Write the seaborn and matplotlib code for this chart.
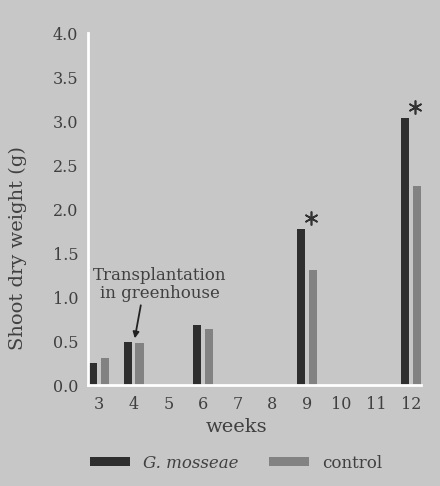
import matplotlib
matplotlib.use("Agg")
import matplotlib.pyplot as plt
import seaborn as sns
import pandas as pd

# ---- data ----
week_order = [3, 4, 5, 6, 7, 8, 9, 10, 11, 12]
weeks = [3, 4, 6, 9, 12]
mosseae = [0.25, 0.49, 0.68, 1.77, 3.03]
control = [0.31, 0.48, 0.64, 1.31, 2.26]
series_names = ["G. mosseae", "control"]
signif_weeks = [9, 12]
y_ticks = [0.0, 0.5, 1.0, 1.5, 2.0, 2.5, 3.0, 3.5, 4.0]

df = pd.DataFrame({
    "week": weeks + weeks,
    "weight": mosseae + control,
    "group": [series_names[0]] * len(weeks) + [series_names[1]] * len(weeks),
})

BG = "#c7c7c7"
TXT = "#404040"
DARK = "#2e2e2e"
GREY = "#828282"
sns.set_theme(style="white")
plt.rcParams["font.family"] = ["DejaVu Serif"]
plt.rcParams["text.color"] = TXT

fig = plt.figure(figsize=(4.4, 4.86), dpi=100, facecolor=BG)
ax = fig.add_axes([88 / 440, 1 - 385 / 486, 333 / 440, 352 / 486])
ax.set_facecolor(BG)

sns.barplot(data=df, x="week", y="weight", hue="group", order=week_order,
            hue_order=series_names, palette=[DARK, GREY],
            width=0.69, gap=0.29, ax=ax, legend=True, saturation=1,
            linewidth=0, edgecolor="none")

ax.set_xlim(-0.32, 9.29)
ax.set_ylim(0, 4.0)
ax.set_yticks(y_ticks)
ax.set_yticklabels([f"{v:.1f}" for v in y_ticks])
ax.tick_params(axis="both", length=0, labelsize=11.5, colors=TXT)
ax.tick_params(axis="x", pad=8)
ax.tick_params(axis="y", pad=7)

for s in ["top", "right"]:
    ax.spines[s].set_visible(False)
for s in ["left", "bottom"]:
    ax.spines[s].set_color("white")
    ax.spines[s].set_linewidth(2)

ax.set_xlabel("weeks", fontsize=14, color=TXT)
ax.set_ylabel("Shoot dry weight (g)", fontsize=14, color=TXT)
ax.xaxis.set_label_coords(0.447, -0.095)
ax.yaxis.set_label_coords(-0.184, 0.39)

# significance asterisks
sig_x = [week_order.index(w) + 0.12 for w in signif_weeks]
sig_y = [mosseae[weeks.index(w)] + 0.13 for w in signif_weeks]
ax.plot(sig_x, sig_y, linestyle="none", marker=(6, 2, 0), markersize=10,
        markeredgewidth=1.2, color="#333333")

# annotation
ax.annotate("Transplantation\nin greenhouse", xy=(1.03, 0.53), xytext=(1.76, 1.14),
            textcoords="data", ha="center", va="center", fontsize=12,
            linespacing=1.05, color=TXT,
            arrowprops=dict(arrowstyle="-|>", color="#222222", lw=1.3,
                            shrinkA=0, shrinkB=0, mutation_scale=9,
                            relpos=(0.36, 0.0)))

# legend
handles, labels = ax.get_legend_handles_labels()
ax.legend_.remove()
for h in handles:
    h.set_edgecolor("none")
    h.set_linewidth(0)
leg = fig.legend(handles, labels, loc="center", ncol=2,
                 bbox_to_anchor=(0.536, 1 - 463 / 486), frameon=False,
                 fontsize=12, handlelength=2.4, handleheight=0.42,
                 handletextpad=0.8, columnspacing=1.8)
leg.get_texts()[0].set_fontstyle("italic")
for t in leg.get_texts():
    t.set_color(TXT)

fig.savefig("out.png", dpi=100, facecolor=BG)
